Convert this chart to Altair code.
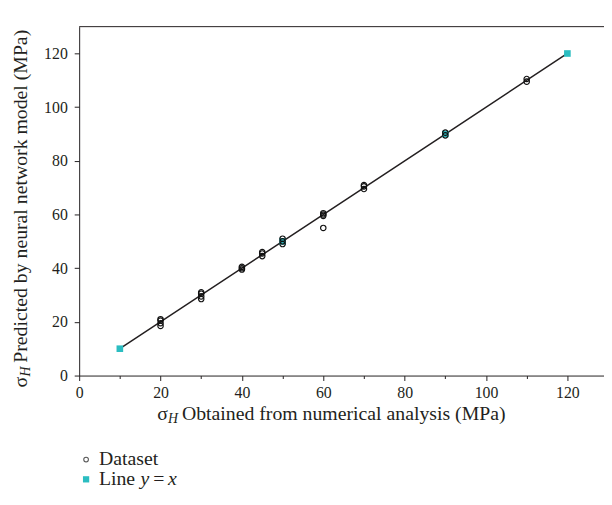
import altair as alt
import pandas as pd

# Dataset points (numerical analysis vs neural network prediction), MPa
data_x = [20, 20, 20, 20, 30, 30, 30, 30, 40, 40, 40, 45, 45, 45, 50, 50, 50,
          60, 60, 60, 60, 70, 70, 70, 90, 90, 110, 110]
data_y = [18.5, 19.5, 20.5, 21, 28.5, 29.5, 30.5, 31, 39.5, 40, 40.5, 44.5, 45.5, 46,
          49, 50, 51, 59.5, 60, 60.5, 55, 69.5, 70.5, 71, 89.5, 90.5, 109.5, 110.5]

# Line y = x markers
line_x = [10, 50, 90, 120]
line_y = [10, 50, 90, 120]

tick_values = [0, 10, 20, 30, 40, 50, 60, 70, 80, 90, 100, 110, 120]
x_domain = [0, 129]
y_domain = [0, 130]

W, H = 531, 353
FONT = "Liberation Serif"
INK = "#231f20"
TEAL = "#2bbdc1"
TS = 20  # title / legend font size

ds = pd.DataFrame({"x": data_x, "y": data_y})
ln = pd.DataFrame({"x": line_x, "y": line_y})
one = pd.DataFrame({"k": [0]})

xs = alt.Scale(domain=x_domain, nice=False, zero=False)
ys = alt.Scale(domain=y_domain, nice=False, zero=False)

major = "datum.value % 20 == 0"
x_axis = alt.Axis(values=tick_values, labelExpr=f"{major} ? datum.label : ''",
                  tickSize={"condition": {"test": major, "value": 5}, "value": 3},
                  title=None, grid=False, labelFont=FONT, labelFontSize=16,
                  labelColor=INK, domainColor=INK, tickColor=INK,
                  labelFlush=False, labelOverlap=False, labelPadding=4)
y_axis = alt.Axis(values=tick_values, labelExpr=f"{major} ? datum.label : ''",
                  tickSize={"condition": {"test": major, "value": 5}, "value": 3},
                  title=None, grid=False, labelFont=FONT, labelFontSize=16,
                  labelColor=INK, domainColor=INK, tickColor=INK,
                  labelFlush=False, labelOverlap=False, labelPadding=7)

line = alt.Chart(ln).mark_line(color=INK, strokeWidth=1.5).encode(
    x=alt.X("x:Q", scale=xs, axis=x_axis),
    y=alt.Y("y:Q", scale=ys, axis=y_axis),
)
squares = alt.Chart(ln).mark_square(color=TEAL, size=45, opacity=1).encode(
    x=alt.X("x:Q", scale=xs), y=alt.Y("y:Q", scale=ys))
circles = alt.Chart(ds).mark_point(shape="circle", filled=False, color="#111111",
                                   size=30, strokeWidth=1.2, opacity=1).encode(
    x=alt.X("x:Q", scale=xs), y=alt.Y("y:Q", scale=ys))

top_rule = alt.Chart(one).mark_rule(color=INK, strokeWidth=1).encode(
    x=alt.value(0), x2=alt.value(W), y=alt.value(0))


def txt(s, x, y, size=TS, italic=False, angle=0, align="left"):
    kw = dict(font=FONT, fontSize=size, color=INK, align=align, baseline="middle")
    if italic:
        kw["fontStyle"] = "italic"
    if angle:
        kw["angle"] = angle
    return alt.Chart(pd.DataFrame({"t": [s]})).mark_text(**kw).encode(
        text="t:N", x=alt.value(x), y=alt.value(y))


ty = 392
x_title = [
    txt("σ", 79, ty),
    txt("H", 90, ty + 5, size=14, italic=True),
    txt("Obtained from numerical analysis (MPa)", 104, ty),
]
tx = -59
y_title = [
    txt("σ", tx, 365, angle=270),
    txt("H", tx + 5, 354, size=14, italic=True, angle=270),
    txt("Predicted by neural network model (MPa)", tx, 340, angle=270),
]

leg_circle = alt.Chart(one).mark_point(shape="circle", filled=False, color="#111111",
                                       size=22, strokeWidth=1.1).encode(
    x=alt.value(7), y=alt.value(438))
leg_square = alt.Chart(one).mark_square(color=TEAL, size=40, opacity=1).encode(
    x=alt.value(7), y=alt.value(458))
legend = [
    leg_circle, leg_square,
    txt("Dataset", 20, 438),
    txt("Line", 20, 458),
    txt("y", 62, 458, italic=True),
    txt("=", 75, 458),
    txt("x", 90, 458, italic=True),
]

chart = alt.layer(line, squares, circles, top_rule, *x_title, *y_title, *legend).properties(
    width=W, height=H,
    autosize=alt.AutoSizeParams(type="none"),
    padding={"left": 72, "top": 16, "right": 0, "bottom": 120},
).configure_view(stroke=None)

chart.save("out.html", embed_options={"renderer": "svg", "actions": False})
